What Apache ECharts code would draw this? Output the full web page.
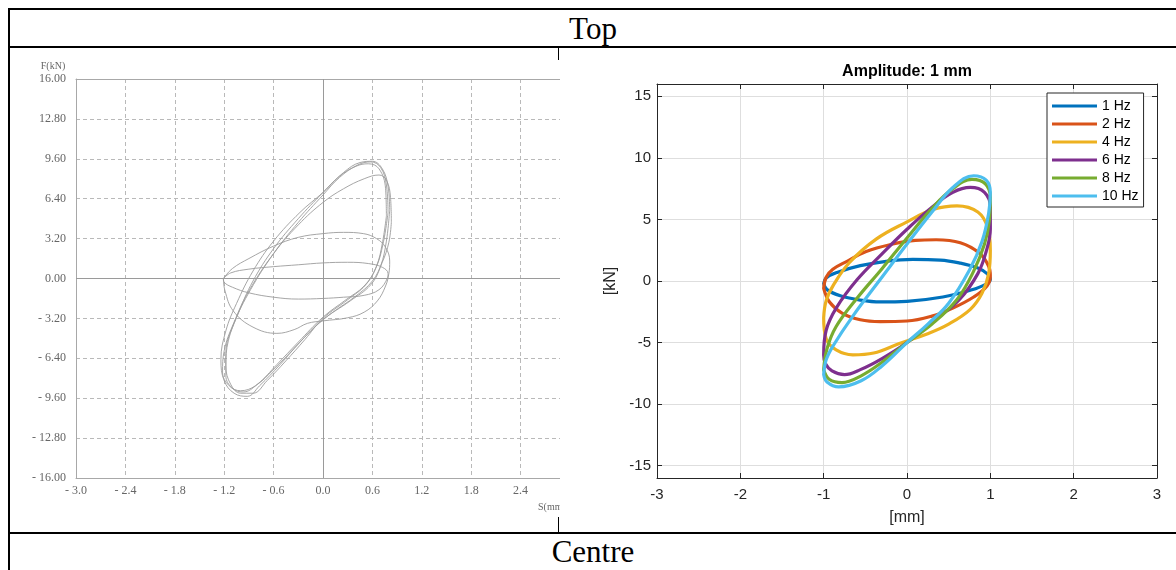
<!DOCTYPE html>
<html><head><meta charset="utf-8">
<script src="https://cdn.jsdelivr.net/npm/echarts@6/dist/echarts.min.js"></script>
<style>
html,body{margin:0;padding:0;background:#fff;width:1176px;height:570px;overflow:hidden;position:relative;}
.ln{position:absolute;background:#000;}
.hdr{position:absolute;left:10px;width:1166px;text-align:center;font-family:"Liberation Serif","Times New Roman",serif;font-size:31px;line-height:36px;color:#000;}
#left{position:absolute;left:10px;top:60px;width:550px;height:457px;background:#fff;overflow:hidden;z-index:2;}
#right{position:absolute;left:560px;top:48px;width:616px;height:484px;background:#fff;z-index:1;}
</style></head><body>
<div class="ln" style="left:8px;top:8px;width:1168px;height:2px"></div>
<div class="ln" style="left:8px;top:8px;width:2px;height:562px"></div>
<div class="ln" style="left:8px;top:46px;width:1168px;height:2px"></div>
<div class="ln" style="left:8px;top:532px;width:1168px;height:2px"></div>
<div class="ln" style="left:558px;top:48px;width:1px;height:484px"></div>
<div class="hdr" style="top:11px">Top</div>
<div class="hdr" style="top:534px">Centre</div>
<div id="left"></div>
<div id="right"></div>
<script>
// ---------- Left chart (test machine record), S (mm) vs F (kN) ----------
const leftXTicks = [-3.0, -2.4, -1.8, -1.2, -0.6, 0.0, 0.6, 1.2, 1.8, 2.4, 3.0];
const leftYTicks = [-16, -12.8, -9.6, -6.4, -3.2, 0, 3.2, 6.4, 9.6, 12.8, 16];
const leftLoop1 = [[-1.21,0.0],[-1.12,0.45],[-0.9,0.75],[-0.6,0.95],[-0.3,1.1],[0.0,1.25],[0.3,1.3],[0.55,1.2],[0.72,0.9],[0.79,0.4],[0.78,0.0],[0.68,-0.9],[0.5,-1.35],[0.25,-1.5],[0.0,-1.6],[-0.3,-1.65],[-0.6,-1.5],[-0.9,-1.15],[-1.1,-0.7],[-1.2,-0.3],[-1.21,0.0]];
const leftLoop2 = [[-1.21,0.0],[-1.1,0.8],[-0.9,1.6],[-0.6,2.6],[-0.3,3.3],[0.0,3.6],[0.25,3.7],[0.49,3.6],[0.65,3.2],[0.76,2.5],[0.81,1.4],[0.8,0.4],[0.76,-0.6],[0.66,-1.8],[0.5,-2.7],[0.3,-3.15],[0.0,-3.4],[-0.19,-3.6],[-0.35,-4.1],[-0.56,-4.4],[-0.85,-3.9],[-1.09,-2.6],[-1.19,-1.0],[-1.21,0.0]];
const leftLoop3 = [[0.81,5.5],[0.79,7.4],[0.72,8.8],[0.6,9.4],[0.45,9.3],[0.25,8.5],[0.0,6.9],[-0.28,5.3],[-0.6,3.0],[-0.85,0.6],[-1.05,-2.0],[-1.18,-4.2],[-1.24,-6.5],[-1.2,-8.2],[-1.08,-9.2],[-0.92,-9.45],[-0.77,-8.6],[-0.52,-6.9],[-0.28,-5.1],[0.0,-3.3],[0.33,-1.8],[0.58,-0.5],[0.7,1.0],[0.77,3.0],[0.81,5.5]];
const leftLoop4 = [[0.77,5.0],[0.76,7.2],[0.68,8.8],[0.55,9.2],[0.4,9.0],[0.2,8.2],[0.0,6.9],[-0.3,4.8],[-0.6,2.4],[-0.85,-0.2],[-1.03,-2.8],[-1.15,-5.0],[-1.18,-7.0],[-1.12,-8.5],[-1.0,-9.2],[-0.85,-9.2],[-0.68,-8.2],[-0.45,-6.6],[-0.22,-4.9],[0.0,-3.2],[0.3,-1.7],[0.52,-0.5],[0.65,1.0],[0.72,2.8],[0.77,5.0]];
const leftLoop5 = [[0.83,4.5],[0.82,6.5],[0.77,7.9],[0.68,8.3],[0.5,8.0],[0.25,7.2],[0.0,6.1],[-0.3,4.3],[-0.6,2.0],[-0.9,-1.0],[-1.08,-3.5],[-1.2,-5.8],[-1.22,-7.5],[-1.14,-8.6],[-1.0,-9.0],[-0.82,-8.6],[-0.6,-7.3],[-0.35,-5.6],[-0.1,-3.9],[0.1,-2.8],[0.4,-1.4],[0.6,-0.2],[0.72,1.3],[0.8,2.9],[0.83,4.5]];
const leftLoop6 = [[0.79,5.3],[0.77,7.5],[0.7,8.9],[0.58,9.35],[0.42,9.1],[0.2,8.1],[0.0,6.7],[-0.3,4.5],[-0.6,2.0],[-0.88,-0.9],[-1.08,-3.6],[-1.18,-6.0],[-1.18,-7.8],[-1.1,-8.8],[-0.97,-9.1],[-0.8,-8.5],[-0.56,-6.9],[-0.3,-5.1],[0.0,-3.1],[0.28,-1.7],[0.5,-0.6],[0.64,0.8],[0.73,2.8],[0.79,5.3]];
const leftLoops = [leftLoop1, leftLoop2, leftLoop3, leftLoop4, leftLoop5, leftLoop6];

// ---------- Right chart (Amplitude: 1 mm) ----------
const rightTitle = 'Amplitude: 1 mm';
const freqNames = ['1 Hz', '2 Hz', '4 Hz', '6 Hz', '8 Hz', '10 Hz'];
const hz1 = [[-1.0,-0.2],[-0.97,0.25],[-0.84,0.7],[-0.56,1.25],[-0.25,1.6],[0.07,1.75],[0.4,1.7],[0.64,1.45],[0.85,1.05],[0.96,0.6],[1.0,0.15],[0.95,-0.25],[0.76,-0.75],[0.43,-1.3],[0.0,-1.65],[-0.32,-1.7],[-0.56,-1.55],[-0.8,-1.2],[-0.96,-0.7],[-1.0,-0.2]];
const hz2 = [[-1.0,-0.6],[-0.97,0.3],[-0.89,0.95],[-0.72,1.6],[-0.49,2.4],[-0.17,3.0],[0.1,3.3],[0.35,3.35],[0.64,3.1],[0.87,2.25],[0.98,1.2],[1.0,0.4],[0.96,-0.4],[0.8,-1.3],[0.55,-2.2],[0.3,-2.85],[0.0,-3.25],[-0.32,-3.3],[-0.56,-3.15],[-0.78,-2.6],[-0.93,-1.7],[-1.0,-0.6]];
const hz4 = [[-1.0,-3.0],[-0.97,-1.6],[-0.88,-0.3],[-0.69,1.5],[-0.37,3.4],[0.0,4.8],[0.31,5.8],[0.6,6.1],[0.85,5.6],[0.97,4.3],[1.0,2.5],[0.98,0.6],[0.9,-1.0],[0.76,-2.3],[0.5,-3.5],[0.24,-4.3],[-0.1,-5.1],[-0.4,-5.85],[-0.65,-6.0],[-0.85,-5.6],[-0.97,-4.7],[-1.0,-3.0]];
const hz6 = [[-1.0,-6.0],[-0.97,-4.0],[-0.85,-2.2],[-0.6,0.1],[-0.3,2.2],[0.0,4.2],[0.3,6.0],[0.55,7.2],[0.76,7.6],[0.93,7.2],[1.0,6.0],[1.0,4.2],[0.95,2.4],[0.85,0.6],[0.63,-1.5],[0.31,-3.3],[0.0,-5.0],[-0.3,-6.3],[-0.56,-7.2],[-0.75,-7.6],[-0.9,-7.3],[-0.98,-6.7],[-1.0,-6.0]];
const hz8 = [[-1.0,-7.2],[-0.96,-5.5],[-0.85,-3.7],[-0.6,-1.4],[-0.3,1.0],[0.0,3.5],[0.3,5.9],[0.55,7.5],[0.78,8.25],[0.94,7.9],[1.0,6.8],[0.99,5.0],[0.93,3.0],[0.8,0.8],[0.6,-1.5],[0.3,-3.5],[0.0,-5.0],[-0.3,-6.6],[-0.55,-7.7],[-0.78,-8.25],[-0.93,-8.0],[-1.0,-7.2]];
const hz10 = [[-1.0,-7.6],[-0.97,-6.4],[-0.89,-5.3],[-0.65,-2.85],[-0.29,0.4],[0.0,3.0],[0.3,5.6],[0.55,7.6],[0.8,8.55],[0.95,8.2],[1.0,7.2],[0.98,5.5],[0.9,3.2],[0.75,0.9],[0.5,-1.8],[0.25,-3.5],[0.0,-5.0],[-0.3,-6.9],[-0.55,-8.1],[-0.82,-8.6],[-0.96,-8.2],[-1.0,-7.6]];
const freqData = [hz1, hz2, hz4, hz6, hz8, hz10];
const freqColors = ['#0072BD', '#D95319', '#EDB120', '#7E2F8E', '#77AC30', '#4DBEEE'];

// ---------- build left ----------
const serif = '"Liberation Serif","Times New Roman",serif';
function fmtNeg(v, d) { return v < 0 ? '- ' + Math.abs(v).toFixed(d) : Math.abs(v).toFixed(d); }
const left = echarts.init(document.getElementById('left'));
left.setOption({
  animation: false,
  grid: { left: 66, top: 19, width: 494, height: 399, outerBoundsMode: 'none', containLabel: false },
  xAxis: [{
    type: 'value', min: leftXTicks[0], max: leftXTicks[leftXTicks.length - 1], interval: 0.6,
    axisLine: { show: true, onZero: false, lineStyle: { color: '#a8a8a8', width: 1 } },
    axisTick: { show: false },
    axisLabel: { color: '#666', fontSize: 12, fontFamily: serif, margin: 7, formatter: v => fmtNeg(v, 1) },
    splitLine: { show: true, lineStyle: { color: '#b9b9b9', type: [4, 3], width: 1 } }
  }, {
    type: 'value', position: 'top', min: leftXTicks[0], max: leftXTicks[leftXTicks.length - 1], interval: 0.6,
    axisLine: { show: true, onZero: false, lineStyle: { color: '#a8a8a8', width: 1 } },
    axisTick: { show: false }, axisLabel: { show: false }, splitLine: { show: false }
  }],
  yAxis: {
    type: 'value', min: leftYTicks[0], max: leftYTicks[leftYTicks.length - 1], interval: 3.2,
    axisLine: { show: true, onZero: false, lineStyle: { color: '#a8a8a8', width: 1 } },
    axisTick: { show: false },
    axisLabel: { color: '#666', fontSize: 12, fontFamily: serif, margin: 10, formatter: v => fmtNeg(v, 2) },
    splitLine: { show: true, lineStyle: { color: '#b9b9b9', type: [4, 3], width: 1 } }
  },
  graphic: [
    { type: 'text', x: 43, y: 6, style: { text: 'F(kN)', font: '10px ' + serif, fill: '#666', textAlign: 'center', textVerticalAlign: 'middle' } },
    { type: 'text', x: 528, y: 447, style: { text: 'S(mm)', font: '10px ' + serif, fill: '#666', textAlign: 'left', textVerticalAlign: 'middle' } }
  ],
  series: leftLoops.map((d, i) => ({
    type: 'line', data: d, showSymbol: false, smooth: 0.4, silent: true,
    lineStyle: { color: '#9c9c9c', width: 0.9 },
    markLine: i === 0 ? {
      silent: true, symbol: ['none', 'none'], label: { show: false },
      lineStyle: { color: '#9a9a9a', type: 'solid', width: 1 },
      data: [{ xAxis: 0 }, { yAxis: 0 }]
    } : undefined
  }))
});

// ---------- build right ----------
const sans = '"Liberation Sans", Arial, sans-serif';
const axisCol = '#262626';
const right = echarts.init(document.getElementById('right'));
right.setOption({
  animation: false,
  legend: {
    orient: 'vertical', left: 487, top: 45, data: freqNames,
    icon: 'rect', itemWidth: 45, itemHeight: 3, itemGap: 2,
    padding: [5, 5, 3, 5], borderColor: axisCol, borderWidth: 1, backgroundColor: '#fff',
    textStyle: { fontSize: 14, fontFamily: sans, color: '#000', lineHeight: 16 }
  },
  grid: { left: 97, top: 36, width: 500, height: 394, outerBoundsMode: 'none', containLabel: false },
  xAxis: [{
    type: 'value', min: -3, max: 3, interval: 1, position: 'bottom',
    axisLine: { onZero: false, lineStyle: { color: axisCol, width: 1 } },
    axisTick: { inside: true, length: 5, lineStyle: { color: axisCol } },
    axisLabel: { color: axisCol, fontSize: 15, fontFamily: sans, margin: 9 },
    splitLine: { show: true, lineStyle: { color: '#dedede', width: 1 } },
    name: '[mm]', nameLocation: 'middle', nameGap: 32,
    nameTextStyle: { color: axisCol, fontSize: 16, fontFamily: sans }
  }, {
    type: 'value', min: -3, max: 3, interval: 1, position: 'top',
    axisLine: { onZero: false, lineStyle: { color: axisCol, width: 1 } },
    axisTick: { inside: true, length: 5, lineStyle: { color: axisCol } },
    axisLabel: { show: false }, splitLine: { show: false }
  }],
  yAxis: [{
    type: 'value', min: -16, max: 16, splitNumber: 6, position: 'left',
    axisLine: { onZero: false, lineStyle: { color: axisCol, width: 1 } },
    axisTick: { inside: true, length: 5, lineStyle: { color: axisCol } },
    axisLabel: { color: axisCol, fontSize: 15, fontFamily: sans, margin: 6, formatter: v => (Math.abs(v) > 15.5 ? '' : String(v)) },
    splitLine: { show: true, lineStyle: { color: '#dedede', width: 1 } },
    name: '[kN]', nameLocation: 'middle', nameRotate: 90, nameGap: 34,
    nameTextStyle: { color: axisCol, fontSize: 16, fontFamily: sans }
  }, {
    type: 'value', min: -16, max: 16, splitNumber: 6, position: 'right',
    axisLine: { onZero: false, lineStyle: { color: axisCol, width: 1 } },
    axisTick: { inside: true, length: 5, lineStyle: { color: axisCol } },
    axisLabel: { show: false }, splitLine: { show: false }
  }],
  graphic: [{ type: 'text', x: 347, y: 24, style: { text: rightTitle, font: 'bold 16px ' + sans, fill: '#000', textAlign: 'center', textVerticalAlign: 'middle' } }],
  series: freqData.map((d, i) => ({
    name: freqNames[i], type: 'line', data: d, showSymbol: false, smooth: 0.4,
    color: freqColors[i],
    lineStyle: { color: freqColors[i], width: 3.2, cap: 'round', join: 'round' }
  }))
});
</script>
</body></html>
